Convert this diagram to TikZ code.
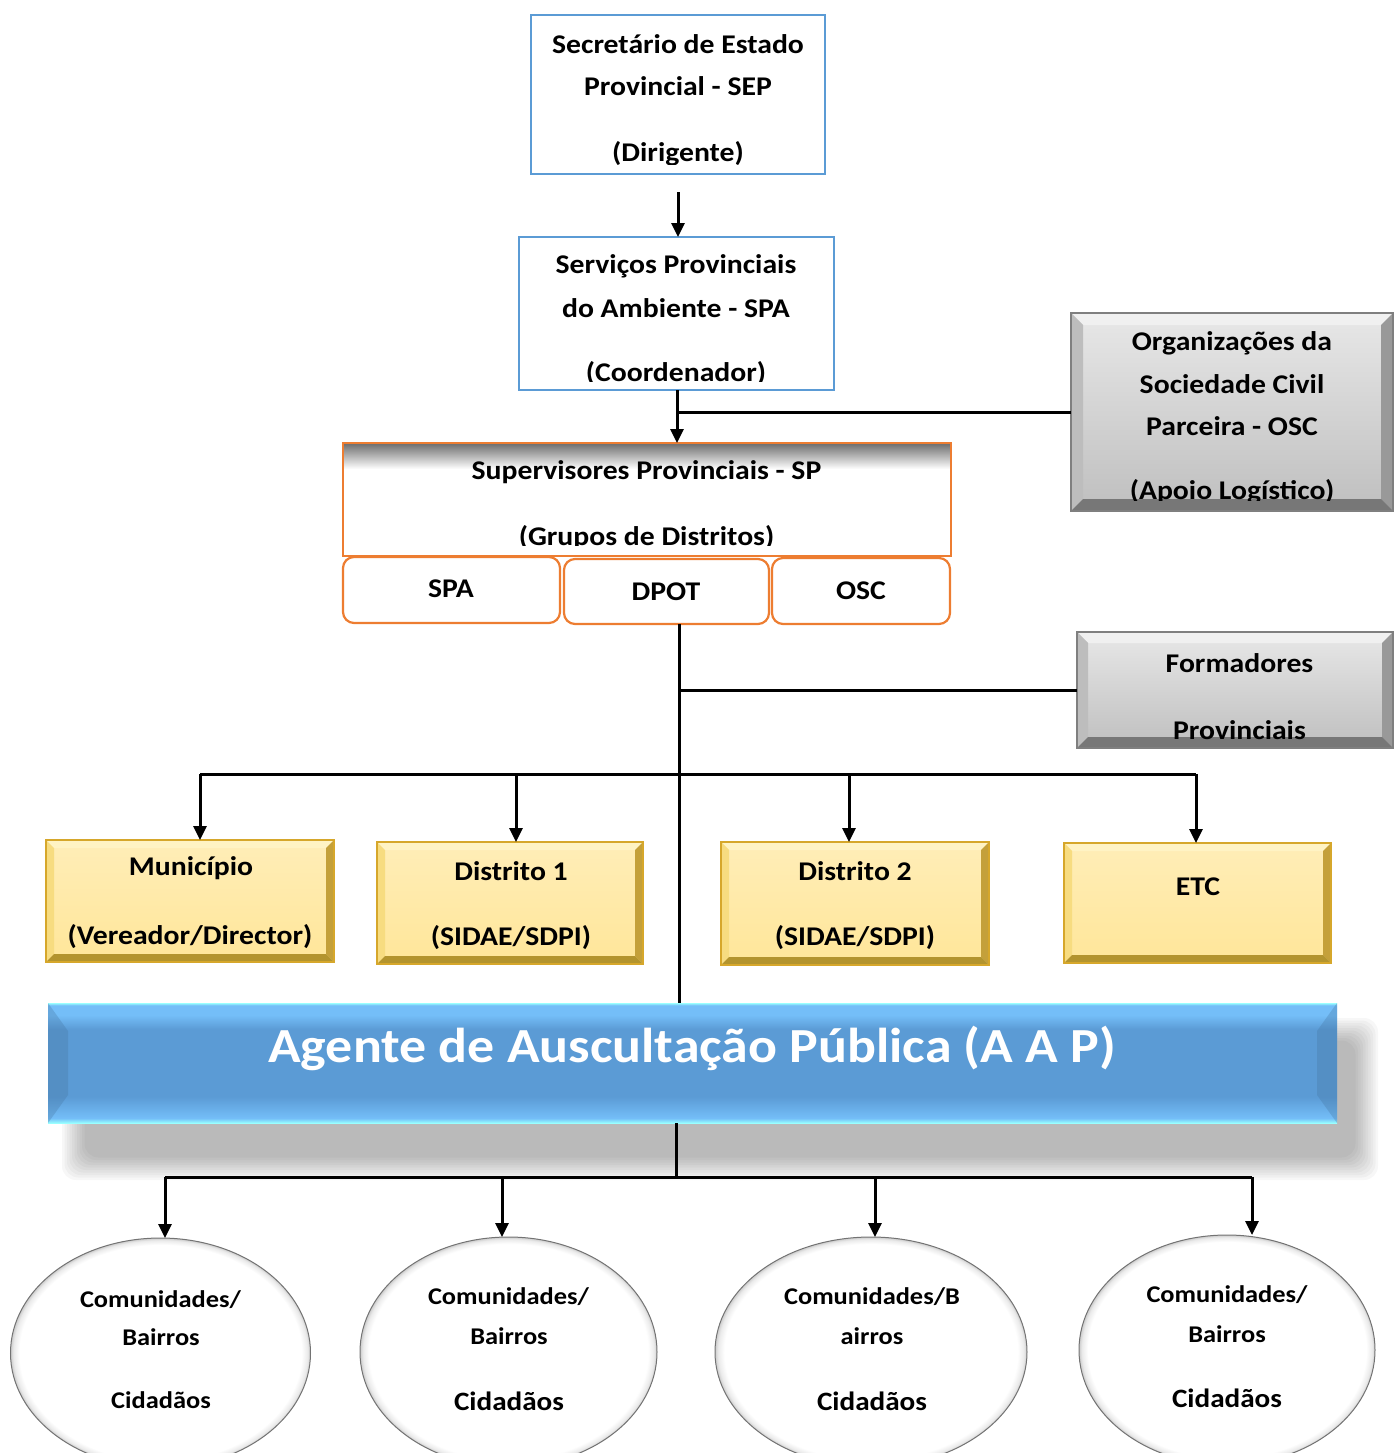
\documentclass[tikz,border=0pt]{standalone}
\usepackage{fontspec}
\setmainfont{Carlito}[FakeStretch=1.1]
\usetikzlibrary{arrows.meta,calc,shapes.geometric}
\definecolor{bordblue}{HTML}{5B9BD5}
\definecolor{bordorange}{HTML}{ED7D31}
\definecolor{aapblue}{HTML}{5B9BD5}
\definecolor{aaplight}{HTML}{74BEF8}
\definecolor{aapcyan}{HTML}{99FFFF}
\definecolor{yelbody}{HTML}{FFE699}
\definecolor{yeltop}{HTML}{FFF3C4}
\definecolor{yelleft}{HTML}{F7DC80}
\definecolor{yelright}{HTML}{C4A03A}
\definecolor{yelbottom}{HTML}{B3942E}
\definecolor{yelline}{HTML}{D6A72B}
\definecolor{grybody}{HTML}{D4D4D4}
\definecolor{grytop}{HTML}{F0F0F0}
\definecolor{gryleft}{HTML}{BDBDBD}
\definecolor{gryright}{HTML}{999999}
\definecolor{grybottom}{HTML}{777777}
\definecolor{gryline}{HTML}{7F7F7F}
\pgfdeclareverticalshading{aapshade}{100bp}{color(0bp)=(aapcyan); color(25bp)=(aapcyan); color(27bp)=(aaplight); color(36bp)=(aapblue); color(64bp)=(aapblue); color(70bp)=(aaplight); color(74bp)=(aaplight); color(75bp)=(aapcyan); color(100bp)=(aapcyan)}
\pgfdeclareradialshading{ellshade}{\pgfpoint{0bp}{0bp}}{color(0bp)=(white); color(23.5bp)=(white); color(24.5bp)=(black!8); color(25bp)=(black!20); color(50bp)=(black!20)}
\newcommand\mybevel[7]{%
 \fill[#3] (#1.north west) -- (#1.north east) -- ([shift={(-#2,#2)}]#1.north east) -- ([shift={(#2,#2)}]#1.north west) -- cycle;
 \fill[#4] (#1.north west) -- ([shift={(#2,#2)}]#1.north west) -- ([shift={(#2,-#2)}]#1.south west) -- (#1.south west) -- cycle;
 \fill[#5] (#1.north east) -- ([shift={(-#2,#2)}]#1.north east) -- ([shift={(-#2,-#2)}]#1.south east) -- (#1.south east) -- cycle;
 \fill[#6] (#1.south west) -- ([shift={(#2,-#2)}]#1.south west) -- ([shift={(-#2,-#2)}]#1.south east) -- (#1.south east) -- cycle;
 \draw[#7, line width=1.2pt] (#1.north west) rectangle (#1.south east);
}
\begin{document}
\begin{tikzpicture}[x=1pt,y=-1pt,
 lbl/.style={font=\fontsize{27}{30}\selectfont\bfseries, inner sep=0pt, anchor=center},
 elbl/.style={font=\fontsize{24}{28}\selectfont\bfseries, inner sep=0pt, anchor=center},
 clbl/.style={font=\fontsize{26.5}{30}\selectfont\bfseries, inner sep=0pt, anchor=center},
 conn/.style={line width=3pt, black},
 arr/.style={conn, -{Triangle[length=14pt,width=13pt]}},
 bluebox/.style={draw=bordblue, line width=2.2pt, fill=white, outer sep=0pt, inner sep=0pt},
 orbox/.style={draw=bordorange, line width=2.2pt, fill=white, outer sep=0pt, inner sep=0pt},
 orround/.style={orbox, rounded corners=11pt},
 grybox/.style={top color=grytop!70!grybody, bottom color=grybody!90!black, outer sep=0pt, inner sep=0pt},
 yelbox/.style={top color=yelbody!70!white, bottom color=yelbody, outer sep=0pt, inner sep=0pt},
 ell/.style={ellipse, draw=black!55, line width=1pt, shading=ellshade, outer sep=0pt, inner sep=0pt}
]
\useasboundingbox (0,0) rectangle (1393,1453);

% ---- top boxes
\node[bluebox, minimum width=294pt, minimum height=159pt] (sep) at (678,94.5) {};
\begin{scope}
\clip (sep.north west) rectangle ([shift={(0,-10)}]sep.south east);
\node[lbl] (sepa) at (678,44) {Secretário de Estado};
\node[lbl] (sepb) at (678,86) {Provincial - SEP};
\node[lbl] (sepc) at (678,154) {(Dirigente)};
\end{scope}

\node[bluebox, minimum width=315pt, minimum height=153pt] (spa) at (676.5,313.5) {};
\begin{scope}
\clip (spa.north west) rectangle ([shift={(0,-9)}]spa.south east);
\node[lbl] (spaa) at (676,266) {Serviços Provinciais};
\node[lbl] (spab) at (676,308) {do Ambiente - SPA};
\node[lbl] (spac) at (676,374) {(Coordenador)};
\end{scope}

% ---- OSC gray
\node[grybox, minimum width=322pt, minimum height=198pt] (osc) at (1232,412) {};
\mybevel{osc}{12}{grytop}{gryleft}{gryright}{grybottom}{gryline}
\begin{scope}
\clip (osc.north west) rectangle ([shift={(0,-11)}]osc.south east);
\node[lbl] (osca) at (1232,343) {Organizações da};
\node[lbl] (oscb) at (1232,384) {Sociedade Civil};
\node[lbl] (oscc) at (1232,426) {Parceira - OSC};
\node[lbl] (oscd) at (1232,492) {(Apoio Logístico)};
\end{scope}

% ---- SP
\node[orbox, minimum width=608pt, minimum height=113pt] (sp) at (647,499.5) {};
\shade[top color=black!55, bottom color=white] ([shift={(1.2,1.2)}]sp.north west) rectangle ([shift={(-1.2,26)}]sp.north east);
\draw[bordorange, line width=2.2pt] (sp.north west) rectangle (sp.south east);
\begin{scope}
\clip (sp.north west) rectangle ([shift={(0,-11)}]sp.south east);
\node[lbl] (spx) at (646.5,472) {Supervisores Provinciais - SP};
\node[lbl] (spy) at (646.5,538) {(Grupos de Distritos)};
\end{scope}

\node[orround, minimum width=217pt, minimum height=66pt] (spa2) at (451.5,590) {};
\node[lbl] (spa2t) at (451,589) {SPA};
\node[orround, minimum width=205pt, minimum height=65pt] (dpot) at (666.5,591.5) {};
\node[lbl] (dpott) at (666,592) {DPOT};
\node[orround, minimum width=178pt, minimum height=66pt] (oscs) at (861,591) {};
\node[lbl] (oscst) at (861,591) {OSC};

% ---- Formadores
\node[grybox, minimum width=316pt, minimum height=116pt] (form) at (1235,690) {};
\mybevel{form}{11}{grytop}{gryleft}{gryright}{grybottom}{gryline}
\begin{scope}
\clip (form.north west) rectangle ([shift={(0,-8)}]form.south east);
\node[lbl] (forma) at (1239.5,663) {Formadores};
\node[lbl] (formb) at (1239.5,730) {Provinciais};
\end{scope}

% ---- yellow boxes
\node[yelbox, minimum width=288pt, minimum height=122pt] (mun) at (190,901) {};
\mybevel{mun}{8}{yeltop}{yelleft}{yelright}{yelbottom}{yelline}
\node[lbl] (muna) at (191,868) {Município};
\node[lbl] (munb) at (190,937) {(Vereador/Director)};

\node[yelbox, minimum width=266pt, minimum height=122pt] (dia) at (510,903) {};
\mybevel{dia}{8}{yeltop}{yelleft}{yelright}{yelbottom}{yelline}
\node[lbl] (diaa) at (511,871) {Distrito 1};
\node[lbl] (diab) at (511,938) {(SIDAE/SDPI)};

\node[yelbox, minimum width=268pt, minimum height=123pt] (dib) at (855,903.5) {};
\mybevel{dib}{8}{yeltop}{yelleft}{yelright}{yelbottom}{yelline}
\node[lbl] (diba) at (855,871) {Distrito 2};
\node[lbl] (dibb) at (855,938) {(SIDAE/SDPI)};

\node[yelbox, minimum width=267pt, minimum height=120pt] (etc) at (1197.5,903) {};
\mybevel{etc}{8}{yeltop}{yelleft}{yelright}{yelbottom}{yelline}
\node[lbl] (etct) at (1198,887) {ETC};

% ---- AAP shadow
\foreach \i in {0,...,9}{
 \fill[black, opacity=0.032, rounded corners=14pt] (62+2.5*\i,1018+2.5*\i) rectangle (1378-2.5*\i,1180-2.5*\i);
}
\node[shading=aapshade, minimum width=1289pt, minimum height=120pt, outer sep=0pt, inner sep=0pt] (aap) at (692.5,1063) {};
\fill[aapblue!75!black, opacity=0.3] (aap.north west) -- ([shift={(20,28)}]aap.north west) -- ([shift={(20,-28)}]aap.south west) -- (aap.south west) -- cycle;
\fill[aapblue!75!black, opacity=0.3] (aap.north east) -- ([shift={(-20,28)}]aap.north east) -- ([shift={(-20,-28)}]aap.south east) -- (aap.south east) -- cycle;
\node[font=\fontsize{49}{52}\selectfont\bfseries, text=white, inner sep=0pt] (aapt) at (692,1048) {Agente de Auscultação Pública (A A P)};

% ---- ellipses
\node[ell, minimum width=300pt, minimum height=230pt] (ea) at (160.5,1353) {};
\node[ell, minimum width=297pt, minimum height=230pt] (eb) at (508.5,1352) {};
\node[ell, minimum width=312pt, minimum height=230pt] (ec) at (871,1352) {};
\node[ell, minimum width=296pt, minimum height=230pt] (ed) at (1227,1350) {};
\node[elbl] (eaa) at (160.5,1300) {Comunidades/};
\node[elbl] (eab) at (161,1337) {Bairros};
\node[elbl] (eac) at (161,1400) {Cidadãos};
\node[elbl] (eba) at (508.5,1297) {Comunidades/};
\node[elbl] (ebb) at (509,1336) {Bairros};
\node[clbl] (ebc) at (509,1401) {Cidadãos};
\node[elbl] (eca) at (872,1297) {Comunidades/B};
\node[elbl] (ecb) at (872,1336) {airros};
\node[clbl] (ecc) at (872,1401) {Cidadãos};
\node[elbl] (eda) at (1227,1295) {Comunidades/};
\node[elbl] (edb) at (1227,1334) {Bairros};
\node[clbl] (edc) at (1227,1398) {Cidadãos};

% ---- connectors
\coordinate (sepout) at ([shift={(0,18)}]sep.south);
\draw[arr] (sepout) -- (sepout |- spa.north);
\coordinate (spaout) at (677,390);
\draw[arr] (spaout) -- (spaout |- sp.north);
\draw[conn] (osc.west) -- (spaout |- osc.west);
\coordinate (trunk) at (679.5,624);
\draw[conn] (trunk) -- (trunk |- aap.north);
\draw[conn] (form.west) -- (trunk |- form.west);
\coordinate (brl) at (200,774);
\coordinate (brb) at (516,774);
\coordinate (brc) at (849,774);
\coordinate (brr) at (1196,774);
\draw[conn] (brl) -- (brr);
\draw[arr] (brl) -- (brl |- mun.north);
\draw[arr] (brb) -- (brb |- dia.north);
\draw[arr] (brc) -- (brc |- dib.north);
\draw[arr] (brr) -- (brr |- etc.north);
\coordinate (aapout) at (676,1123);
\coordinate (bbl) at (165,1177);
\coordinate (bbb) at (502,1177);
\coordinate (bbc) at (875,1177);
\coordinate (bbr) at (1252,1177);
\draw[conn] (aapout) -- (aapout |- bbl);
\draw[conn] (bbl) -- (bbr);
\draw[arr] (bbl) -- (bbl |- ea.north);
\draw[arr] (bbb) -- (bbb |- eb.north);
\draw[arr] (bbc) -- (bbc |- ec.north);
\draw[arr] (bbr) -- (bbr |- ed.north);
\end{tikzpicture}
\end{document}
